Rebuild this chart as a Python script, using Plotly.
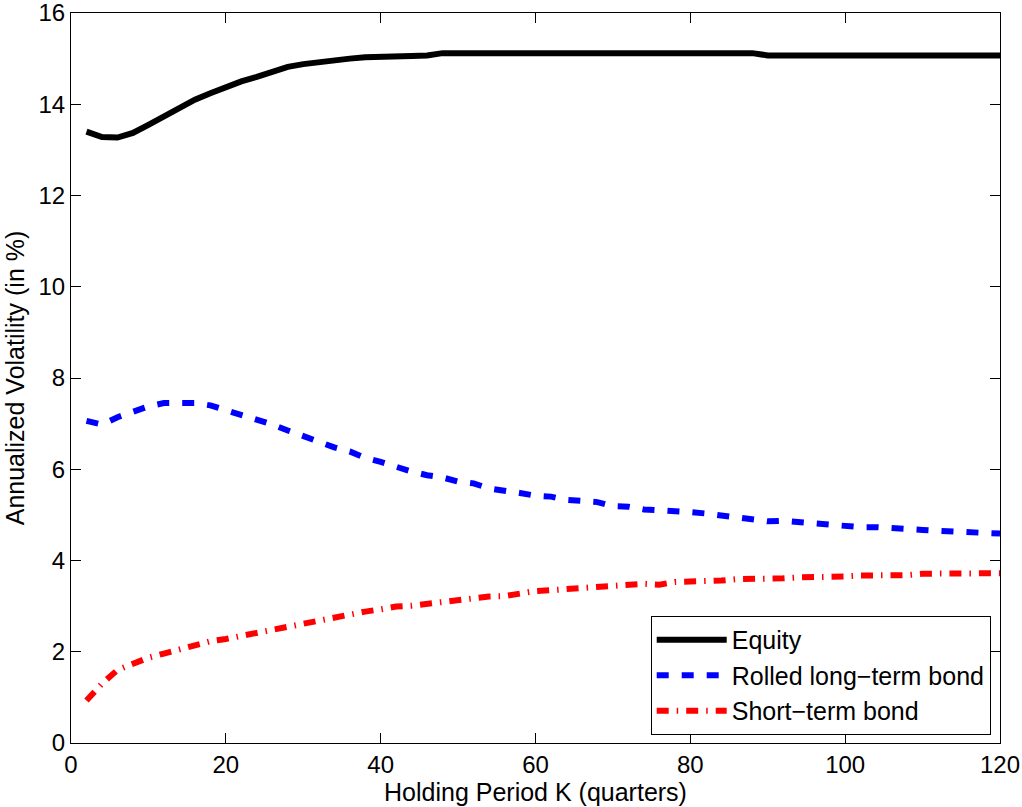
import plotly.graph_objects as go

K = list(range(2, 121, 2))

equity = [13.40, 13.28, 13.27, 13.37, 13.55, 13.73, 13.92, 14.10, 14.24, 14.38,
          14.50, 14.60, 14.70, 14.82, 14.88, 14.93, 14.96, 15.00, 15.03, 15.05,
          15.06, 15.06, 15.07, 15.12, 15.12, 15.12, 15.12, 15.12, 15.12, 15.12,
          15.12, 15.12, 15.12, 15.12, 15.12, 15.12, 15.12, 15.12, 15.12, 15.12,
          15.12, 15.12, 15.12, 15.12, 15.07, 15.07, 15.07, 15.07, 15.07, 15.07,
          15.07, 15.07, 15.07, 15.07, 15.07, 15.07, 15.07, 15.07, 15.07, 15.07]

rolled_long = [7.06, 6.98, 7.14, 7.26, 7.38, 7.45, 7.46, 7.45, 7.40, 7.30,
               7.20, 7.09, 6.98, 6.85, 6.72, 6.61, 6.48, 6.39, 6.25, 6.16,
               6.05, 5.95, 5.87, 5.82, 5.73, 5.69, 5.58, 5.54, 5.48, 5.42,
               5.40, 5.33, 5.29, 5.28, 5.19, 5.18, 5.12, 5.11, 5.07, 5.06,
               5.03, 4.99, 4.93, 4.92, 4.86, 4.87, 4.84, 4.83, 4.79, 4.78,
               4.73, 4.73, 4.72, 4.68, 4.67, 4.65, 4.64, 4.63, 4.60, 4.59]

short_term = [0.93, 1.30, 1.60, 1.75, 1.87, 1.96, 2.05, 2.13, 2.23, 2.28,
              2.35, 2.40, 2.47, 2.56, 2.62, 2.70, 2.77, 2.84, 2.88, 2.93,
              2.99, 3.01, 3.05, 3.08, 3.14, 3.19, 3.21, 3.22, 3.28, 3.33,
              3.35, 3.37, 3.39, 3.41, 3.44, 3.46, 3.49, 3.47, 3.53, 3.54,
              3.54, 3.56, 3.59, 3.59, 3.59, 3.61, 3.63, 3.63, 3.63, 3.65,
              3.67, 3.67, 3.67, 3.68, 3.71, 3.72, 3.72, 3.72, 3.72, 3.72]

x_ticks = [0, 20, 40, 60, 80, 100, 120]
y_ticks = [0, 2, 4, 6, 8, 10, 12, 14, 16]

FONT = "Liberation Sans, Arial, Helvetica, sans-serif"

fig = go.Figure()
fig.add_trace(go.Scatter(x=K, y=equity, mode="lines", name="Equity",
                         line=dict(color="black", width=6)))
fig.add_trace(go.Scatter(x=K, y=rolled_long, mode="lines", name="Rolled long\u2212term bond",
                         line=dict(color="#0000ff", width=6, dash="12px,13px")))
fig.add_trace(go.Scatter(x=K, y=short_term, mode="lines", name="Short\u2212term bond",
                         line=dict(color="#ff0000", width=6, dash="12px,8px,1.5px,8px")))

axis_common = dict(showgrid=False, zeroline=False, showline=True, linecolor="black",
                   linewidth=1, mirror="ticks", ticks="inside", ticklen=10,
                   tickcolor="black", tickwidth=1, automargin=False,
                   ticklabeloverflow="allow",
                   tickfont=dict(family=FONT, size=24, color="black"))

fig.update_layout(
    width=1022, height=807,
    margin=dict(l=71, r=22, t=13, b=64, autoexpand=False),
    paper_bgcolor="white", plot_bgcolor="white",
    font=dict(family=FONT, size=24, color="black"),
    xaxis=dict(range=[0, 120], tickvals=x_ticks,
               title=dict(text="Holding Period K (quarters)", standoff=4,
                          font=dict(family=FONT, size=25)),
               **axis_common),
    yaxis=dict(range=[0, 16], tickvals=y_ticks,
               title=dict(text="Annualized Volatility (in %)", standoff=6,
                          font=dict(family=FONT, size=25)),
               **axis_common),
    legend=dict(x=0.990, y=0.011, xanchor="right", yanchor="bottom",
                bordercolor="black", borderwidth=1, bgcolor="white",
                font=dict(family=FONT, size=25), tracegroupgap=0,
                itemwidth=70),
    showlegend=True,
)

fig.write_html("out.html")
